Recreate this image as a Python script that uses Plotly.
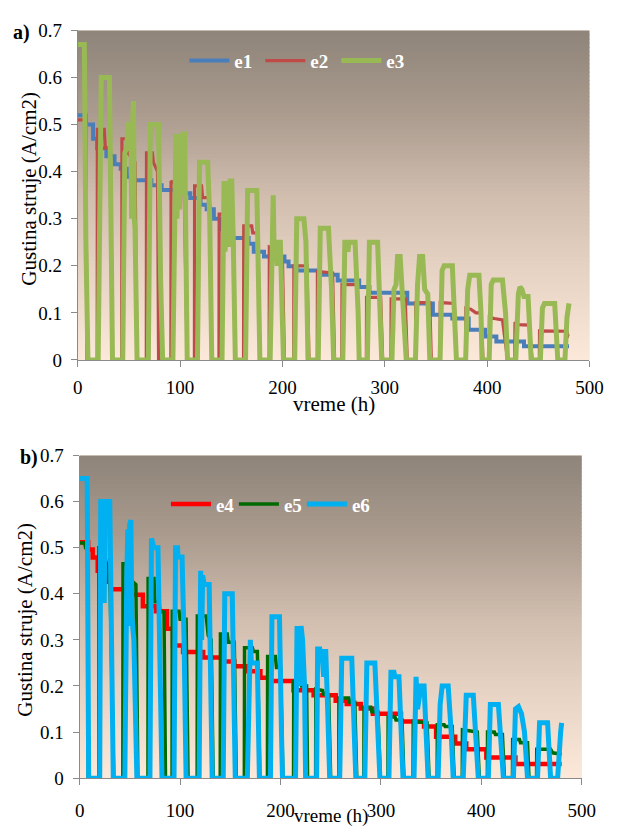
import plotly.graph_objects as go

# ---------------- data ----------------
# panel a
E1_STEP_X = [0, 8, 15, 19, 28, 36, 42, 48, 52, 72, 82, 104, 110, 120, 126, 133, 139, 149, 167, 172,
             182, 202, 206, 214, 236, 254, 275, 285, 322, 347, 366, 382, 398, 409, 436, 480]
E1_STEP_Y = [0.52, 0.50, 0.47, 0.45, 0.433, 0.416, 0.406, 0.389, 0.382, 0.371, 0.361, 0.354, 0.344,
             0.33, 0.32, 0.30, 0.278, 0.259, 0.247, 0.23, 0.22, 0.209, 0.199, 0.19, 0.181, 0.169,
             0.155, 0.143, 0.12, 0.096, 0.088, 0.064, 0.050, 0.039, 0.029, 0.029]

E2_PTS = [(0, 0.51), (8, 0.51), (9, 0), (19, 0), (19.2, 0.49), (26, 0.49), (27, 0.45), (32, 0.45), (34, 0),
          (43, 0), (43.2, 0.47), (48, 0.47), (49, 0.44), (56, 0.42), (58, 0),
          (67, 0), (67.2, 0.44), (73, 0.44), (74, 0.42), (78, 0.40), (79, 0),
          (91, 0), (91.2, 0.38), (98, 0.37), (104, 0.36), (107, 0),
          (114, 0), (114.2, 0.37), (121, 0.37), (122, 0.345), (128, 0.345), (129, 0.33), (131, 0),
          (138, 0), (138.2, 0.31), (145, 0.31), (146, 0.30), (152, 0.30), (154, 0),
          (162, 0), (162.2, 0.285), (170, 0.285), (171, 0.27), (176, 0.27), (178, 0),
          (187, 0), (187.2, 0.24), (194, 0.235), (196, 0.22), (200, 0.215), (202, 0),
          (211, 0), (211.2, 0.20), (224, 0.20), (226, 0),
          (234, 0), (234.2, 0.188), (249, 0.185), (251, 0),
          (258, 0), (258.2, 0.16), (273, 0.16), (275, 0),
          (282, 0), (282.2, 0.133), (296, 0.133), (298, 0),
          (306, 0), (306.2, 0.13), (320, 0.13), (322, 0),
          (330, 0), (330.2, 0.122), (344, 0.122), (345.5, 0),
          (354, 0), (354.2, 0.122), (368, 0.12), (370, 0),
          (379, 0), (379.2, 0.11), (384, 0.108), (389, 0.10), (394, 0.10), (396, 0),
          (402, 0), (402.2, 0.091), (407, 0.088), (415, 0.085), (420, 0),
          (427, 0), (427.2, 0.08), (431, 0.075), (441, 0.074), (444, 0),
          (451, 0), (451.2, 0.062), (478, 0.061), (479, 0.05), (480, 0.05)]

E3_PTS = [(0, 0.67), (6.5, 0.67), (8, 0.25), (10, 0),
          (20, 0), (22, 0.58), (23, 0.60), (31, 0.60), (32.5, 0.3), (34, 0),
          (44, 0), (46, 0.44), (48, 0.45), (49, 0.50), (52, 0.50), (52.7, 0.30), (53.5, 0.50),
          (54.5, 0.55), (55.3, 0.30), (56, 0.28), (58, 0),
          (69, 0), (71, 0.50), (79, 0.50), (81, 0.17), (83, 0),
          (93, 0), (95, 0.45), (96, 0.48), (97, 0.30), (98, 0.48), (99.5, 0.32), (100.5, 0.48),
          (102, 0.35), (103, 0.48), (104.5, 0.48), (106, 0.15), (107, 0),
          (117, 0), (119, 0.42), (127, 0.42), (129, 0.30), (131, 0),
          (141, 0), (143, 0.38), (144, 0.23), (145, 0.38), (146, 0.25), (147, 0.38), (148, 0.24),
          (149, 0.38), (150.5, 0.38), (152, 0.25), (154, 0),
          (164, 0), (166, 0.36), (175, 0.36), (176.5, 0.12), (178, 0),
          (188, 0), (190, 0.25), (191, 0.35), (192, 0.22), (193.5, 0.25), (195, 0.20), (196, 0.25),
          (198, 0.25), (199.5, 0.10), (201, 0),
          (212, 0), (214, 0.30), (221, 0.30), (223, 0.25), (225, 0),
          (235, 0), (237, 0.28), (245, 0.28), (248, 0.15), (250, 0),
          (259, 0), (261, 0.25), (263, 0.25), (264, 0.23), (265, 0.25), (271, 0.25), (274, 0.10), (275, 0),
          (283, 0), (285, 0.25), (293, 0.25), (296, 0.10), (297, 0),
          (307, 0), (309, 0.15), (311, 0.16), (312.5, 0.22), (315, 0.22), (317, 0.15), (321, 0),
          (330, 0), (332, 0.16), (334, 0.22), (337, 0.22), (339, 0.15), (342, 0.14), (344, 0),
          (354, 0), (356, 0.19), (358, 0.20), (366, 0.20), (368.5, 0.10), (370, 0),
          (379, 0), (381, 0.15), (383, 0.18), (392, 0.18), (394, 0.10), (395, 0),
          (402, 0), (404, 0.16), (406, 0.17), (415, 0.17), (418, 0.10), (420, 0),
          (428, 0), (430.5, 0.14), (432, 0.155), (434, 0.15), (436, 0.135), (440, 0.135), (443, 0),
          (452, 0), (454, 0.11), (456, 0.12), (466, 0.12), (468, 0.05), (469, 0),
          (476, 0), (478, 0.09), (480, 0.12)]

# panel b
E4_STEP_X = [0, 8.5, 13, 18, 26, 31, 46, 63, 76, 87, 93, 103, 123, 142, 154, 167, 180, 190, 213, 233,
             255, 266, 280, 292, 320, 343, 355, 374, 385, 405, 434, 480]
E4_STEP_Y = [0.512, 0.496, 0.479, 0.45, 0.426, 0.41, 0.398, 0.373, 0.362, 0.324, 0.288, 0.274, 0.262,
             0.253, 0.243, 0.232, 0.218, 0.211, 0.191, 0.18, 0.168, 0.161, 0.151, 0.14, 0.123, 0.112,
             0.09, 0.075, 0.063, 0.045, 0.031, 0.031]

E5_PTS = [(0, 0.51), (5, 0.51), (6, 0.50), (8, 0.50), (8.5, 0),
          (19, 0), (19.2, 0.50), (24, 0.50), (26, 0.47), (30, 0.45), (34, 0),
          (43, 0), (43.2, 0.465), (49, 0.465), (51, 0.43), (56, 0.42), (58, 0),
          (68, 0), (68.2, 0.433), (74, 0.433), (75, 0.383), (79, 0.383), (80, 0.362), (84, 0.36), (85.5, 0),
          (92, 0), (92.2, 0.362), (99, 0.362), (100, 0.345), (106, 0.345), (108, 0),
          (117, 0), (117.2, 0.352), (126, 0.352), (128, 0.31), (131, 0.30), (133, 0),
          (140, 0), (140.2, 0.313), (147, 0.313), (148, 0.295), (154, 0.295), (156, 0),
          (164, 0), (164.2, 0.283), (172, 0.283), (173, 0.275), (177, 0.275), (179.5, 0),
          (187, 0), (187.2, 0.264), (195, 0.264), (196, 0.24), (200, 0.24), (202.5, 0),
          (213, 0), (213.2, 0.21), (220, 0.21), (221, 0.20), (226, 0.20), (227, 0),
          (235, 0), (235.2, 0.193), (242, 0.19), (243, 0.182), (248, 0.18), (250, 0),
          (258, 0), (258.2, 0.174), (268, 0.174), (269, 0.165), (274, 0.165), (276, 0),
          (283, 0), (283.2, 0.154), (290, 0.154), (291, 0.144), (297, 0.144), (299.5, 0),
          (307, 0), (307.2, 0.133), (314, 0.133), (315, 0.126), (321, 0.126), (323, 0),
          (332, 0), (332.2, 0.123), (346, 0.12), (348, 0),
          (356, 0), (356.2, 0.116), (363, 0.116), (364, 0.112), (371, 0.112), (373, 0),
          (381, 0), (381.2, 0.105), (396, 0.10), (398, 0),
          (406, 0), (406.2, 0.10), (413, 0.10), (414, 0.095), (421, 0.095), (423, 0),
          (431, 0), (431.2, 0.084), (438, 0.084), (439, 0.077), (446, 0.077), (447.5, 0),
          (455, 0), (455.2, 0.063), (469, 0.063), (471, 0.055), (480, 0.052)]

E6_PTS = [(0, 0.65), (7.5, 0.65), (9, 0),
          (20, 0), (21, 0.60), (23, 0.60), (24.5, 0.38), (25.5, 0.60), (30, 0.60), (33.5, 0),
          (45, 0), (46, 0.44), (47, 0.45), (48, 0.54), (48.8, 0.33), (49.8, 0.55), (51, 0.56), (52, 0.35),
          (54, 0.30), (57, 0),
          (70, 0), (71.5, 0.52), (73, 0.51), (74, 0.50), (78, 0.50), (80, 0.25), (82, 0),
          (94, 0), (95.5, 0.50), (97.5, 0.50), (98, 0.48), (102, 0.48), (104, 0.30), (106, 0),
          (119, 0), (120.5, 0.45), (121.5, 0.30), (122.5, 0.44), (124, 0.42), (129, 0.42), (131, 0.15), (132, 0),
          (143, 0), (144.5, 0.40), (152, 0.40), (154, 0.10), (155, 0),
          (167, 0), (169, 0.25), (170, 0.30), (171, 0.25), (177, 0.25), (179, 0),
          (190, 0), (191.5, 0.35), (199, 0.35), (201, 0.10), (202, 0),
          (215, 0), (216.5, 0.33), (217.5, 0.22), (218.5, 0.33), (219.5, 0.20), (220.5, 0.33), (222, 0.30),
          (224, 0.20), (225, 0),
          (236, 0), (237, 0.28), (239, 0.28), (240, 0.25), (241, 0.28), (243, 0.22), (245, 0.28), (247, 0.15), (249, 0),
          (259, 0), (261, 0.26), (271, 0.26), (273, 0.10), (275, 0),
          (284, 0), (286, 0.25), (294, 0.25), (297, 0.10), (299, 0),
          (308, 0), (310, 0.23), (313, 0.23), (314, 0.22), (318, 0.22), (321, 0.05), (322, 0),
          (333, 0), (335, 0.22), (336.5, 0.15), (338, 0.18), (340, 0.20), (343, 0.20), (345, 0.10), (347, 0),
          (357, 0), (359, 0.16), (361, 0.20), (367, 0.20), (370, 0.10), (372, 0),
          (382, 0), (384, 0.165), (385, 0.18), (392, 0.18), (395, 0.08), (397, 0),
          (407, 0), (409, 0.16), (417, 0.16), (420, 0.08), (422, 0),
          (432, 0), (434, 0.15), (437, 0.155), (440, 0.14), (443, 0.10), (446, 0),
          (456, 0), (458, 0.12), (466, 0.12), (468, 0.05), (469, 0),
          (476, 0), (478, 0.09), (479, 0.10), (480, 0.12)]

SERIES_A = ["e1", "e2", "e3"]
SERIES_B = ["e4", "e5", "e6"]
X_TICKS = [0, 100, 200, 300, 400, 500]
Y_TICKS = [0, 0.1, 0.2, 0.3, 0.4, 0.5, 0.6, 0.7]
Y_TICK_TEXT = ["0", "0.1", "0.2", "0.3", "0.4", "0.5", "0.6", "0.7"]
X_TITLE = "vreme (h)"
Y_TITLE = "Gustina struje (A/cm2)"

# ---------------- figure ----------------
W, H = 619, 835
FONT = "Liberation Serif"


def fx(p):
    return p / W


def fy(p):
    return 1 - p / H


def unzip(pts):
    return [p[0] for p in pts], [p[1] for p in pts]


fig = go.Figure()

line_a = [
    (SERIES_A[0], E1_STEP_X, E1_STEP_Y, "#4a7ebb", 4, "hv"),
    (SERIES_A[1], *unzip(E2_PTS), "#be4b48", 3.2, "linear"),
    (SERIES_A[2], *unzip(E3_PTS), "#98b954", 5, "linear"),
]
line_b = [
    (SERIES_B[0], E4_STEP_X, E4_STEP_Y, "#ff0000", 4.5, "hv"),
    (SERIES_B[1], *unzip(E5_PTS), "#006a00", 3.5, "linear"),
    (SERIES_B[2], *unzip(E6_PTS), "#00b0f0", 5, "linear"),
]
for name, xs, ys, col, w, shp in line_a:
    fig.add_trace(go.Scatter(x=xs, y=ys, name=name, mode="lines", cliponaxis=False,
                             line=dict(color=col, width=w, shape=shp), xaxis="x", yaxis="y",
                             legend="legend"))
for name, xs, ys, col, w, shp in line_b:
    fig.add_trace(go.Scatter(x=xs, y=ys, name=name, mode="lines", cliponaxis=False,
                             line=dict(color=col, width=w, shape=shp), xaxis="x2", yaxis="y2",
                             legend="legend2"))

# gradient background of the plot areas
STOPS = [(0.0, (142, 132, 121)), (0.25, (170, 155, 142)), (0.5, (208, 189, 174)),
         (0.75, (233, 213, 197)), (1.0, (252, 232, 216))]


def grad(t):
    for (t0, c0), (t1, c1) in zip(STOPS[:-1], STOPS[1:]):
        if t0 <= t <= t1:
            f = (t - t0) / (t1 - t0)
            return "rgb(%d,%d,%d)" % tuple(round(a + (b - a) * f) for a, b in zip(c0, c1))
    return "rgb(%d,%d,%d)" % STOPS[-1][1]


shapes = []
N = 80
for xa, ya in (("x", "y"), ("x2", "y2")):
    for i in range(N):
        t = (i + 0.5) / N
        y1 = 1 - i / N
        y0 = max(0, 1 - (i + 1) / N - 0.003)
        shapes.append(dict(type="rect", xref=xa + " domain", yref=ya + " domain", x0=0, x1=1,
                           y0=y0, y1=y1, fillcolor=grad(t), line=dict(width=0), layer="below"))

axis_common = dict(showline=True, linecolor="#8a8a8a", linewidth=1, ticks="outside", ticklen=6,
                   tickcolor="#8a8a8a", tickfont=dict(family=FONT, size=19, color="black"),
                   showgrid=False, zeroline=False, fixedrange=True)

legend_font = dict(family=FONT, size=19, color="white", weight="bold")
fig.update_layout(
    width=W, height=H, margin=dict(l=0, r=0, t=0, b=0),
    paper_bgcolor="white", plot_bgcolor="rgb(252,232,216)",
    shapes=shapes,
    xaxis=dict(domain=[fx(75), fx(603)], range=[0, 500], tickvals=X_TICKS, anchor="y",
               ticklabelstandoff=4, **axis_common),
    yaxis=dict(domain=[fy(359), fy(21)], range=[0, 0.7], tickvals=Y_TICKS, ticktext=Y_TICK_TEXT,
               anchor="x", ticklabelstandoff=5, **axis_common),
    xaxis2=dict(domain=[fx(77), fx(595)], range=[0, 500], tickvals=X_TICKS, anchor="y2",
                ticklabelstandoff=9, **axis_common),
    yaxis2=dict(domain=[fy(788), fy(457)], range=[0, 0.7], tickvals=Y_TICKS, ticktext=Y_TICK_TEXT,
                anchor="x2", ticklabelstandoff=5, **axis_common),
    legend=dict(orientation="h", x=fx(185), y=fy(52), xanchor="left", yanchor="middle",
                bgcolor="rgba(0,0,0,0)", itemwidth=40, entrywidth=21, font=legend_font),
    legend2=dict(orientation="h", x=fx(166), y=fy(507), xanchor="left", yanchor="middle",
                 bgcolor="rgba(0,0,0,0)", itemwidth=40, entrywidth=13, font=legend_font),
    showlegend=True,
)

ann = []


def add_text(text, x, y, size, angle=0):
    ann.append(dict(text=text, x=fx(x), y=fy(y), xref="paper", yref="paper", showarrow=False,
                    xanchor="center", yanchor="middle", textangle=angle,
                    font=dict(family=FONT, size=size, color="black")))


add_text("<b>a)</b>", 17, 23, 20)
add_text("<b>b)</b>", 25, 459, 20)
add_text(Y_TITLE, 25, 183, 21, -90)
add_text(Y_TITLE, 21, 625, 21, -90)
add_text(X_TITLE, 339, 404, 21)
add_text(X_TITLE, 336, 827, 19)
fig.update_layout(annotations=ann)

fig.write_html("out.html")
